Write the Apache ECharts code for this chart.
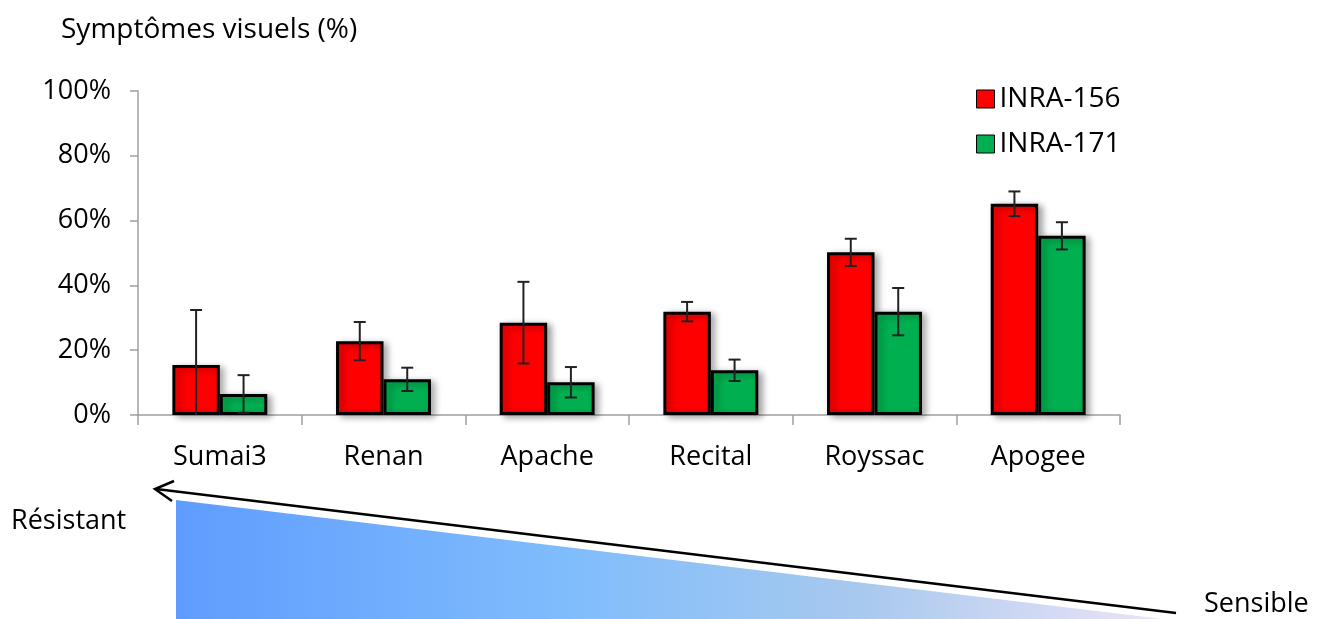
<!DOCTYPE html>
<html>
<head>
<meta charset="utf-8">
<script src="https://cdn.jsdelivr.net/npm/echarts@6/dist/echarts.min.js"></script>
<style>html,body{margin:0;padding:0;background:#fff}#c{width:1330px;height:619px}</style>
</head>
<body>
<div id="c"></div>
<script>
var categories = ['Sumai3', 'Renan', 'Apache', 'Recital', 'Royssac', 'Apogee'];
var inra156 = [15.4, 22.8, 28.5, 31.9, 50.2, 65.2];
var inra156Err = [17.0, 5.9, 12.6, 3.0, 4.2, 3.8];
var inra171 = [6.5, 11.0, 10.1, 13.8, 31.9, 55.3];
var inra171Err = [5.8, 3.6, 4.7, 3.3, 7.3, 4.2];
var yTicks = [0, 20, 40, 60, 80, 100];

var FONT = 'Open Sans';
var chart = echarts.init(document.getElementById('c'));

function errData(vals, errs) {
  return vals.map(function (v, i) { return [i, v, errs[i]]; });
}
function errRender(sign) {
  return function (params, api) {
    var i = api.value(0), v = api.value(1), e = api.value(2);
    var band = api.size([1, 0])[0];
    var top = api.coord([i, v + e]);
    var bot = api.coord([i, Math.max(0, v - e)]);
    var x = top[0] + sign * 0.145 * band;
    var cap = 6;
    var st = { stroke: '#222222', lineWidth: 2 };
    var children = [
      { type: 'line', shape: { x1: x, y1: top[1], x2: x, y2: bot[1] }, style: st },
      { type: 'line', shape: { x1: x - cap, y1: top[1], x2: x + cap, y2: top[1] }, style: st }
    ];
    if (v - e > 0) {
      children.push({ type: 'line', shape: { x1: x - cap, y1: bot[1], x2: x + cap, y2: bot[1] }, style: st });
    }
    return { type: 'group', children: children };
  };
}

var barStyle = function (color) {
  return {
    color: color,
    borderColor: '#000',
    borderWidth: 3,
    shadowBlur: 7,
    shadowOffsetX: 4,
    shadowOffsetY: 2,
    shadowColor: 'rgba(0,0,0,0.35)'
  };
};

chart.setOption({
  animation: false,
  textStyle: { fontFamily: FONT },
  grid: { left: 138, right: 210, top: 91, bottom: 204 },
  legend: {
    data: ['INRA-156', 'INRA-171'],
    orient: 'vertical',
    left: 971,
    top: 80,
    itemWidth: 18,
    itemHeight: 18,
    itemGap: 17,
    icon: 'rect',
    itemStyle: { borderColor: '#000', borderWidth: 1, shadowBlur: 0, shadowOffsetX: 0, shadowOffsetY: 0 },
    textStyle: { fontFamily: FONT, fontSize: 28, color: '#000', padding: [0, 0, 0, 0] }
  },
  xAxis: {
    type: 'category',
    data: categories,
    axisLine: { lineStyle: { color: '#a0a0a0', width: 1.5 } },
    axisTick: { show: true, length: 10, interval: 0, alignWithLabel: false, lineStyle: { color: '#a0a0a0', width: 1.5 } },
    axisLabel: { fontFamily: FONT, fontSize: 27, color: '#000', margin: 29 }
  },
  yAxis: {
    type: 'value',
    min: 0, max: 100, interval: 20,
    splitLine: { show: false },
    axisLine: { show: true, lineStyle: { color: '#a0a0a0', width: 1.5 } },
    axisTick: { show: true, length: 8, inside: false, lineStyle: { color: '#a0a0a0', width: 1.5 } },
    axisLabel: {
      fontFamily: FONT, fontSize: 27, color: '#000', margin: 27,
      formatter: function (v) { return yTicks.indexOf(v) >= 0 ? v + '%' : ''; }
    }
  },
  series: [
    { name: 'INRA-156', type: 'bar', data: inra156, barGap: '0%', barCategoryGap: '42%', itemStyle: barStyle('#ff0000') },
    { name: 'INRA-171', type: 'bar', data: inra171, barGap: '0%', barCategoryGap: '42%', itemStyle: barStyle('#00b050') },
    { name: 'err156', type: 'custom', data: errData(inra156, inra156Err), renderItem: errRender(-1), encode: { x: 0, y: 1 }, z: 5 },
    { name: 'err171', type: 'custom', data: errData(inra171, inra171Err), renderItem: errRender(1), encode: { x: 0, y: 1 }, z: 5 }
  ],
  graphic: [
    { type: 'text', left: 61, top: 16, style: { text: 'Symptômes visuels (%)', font: '28px "Open Sans"', fill: '#000' } },
    {
      type: 'polygon',
      shape: { points: [[176, 500], [1163, 619], [176, 619]] },
      style: {
        fill: new echarts.graphic.LinearGradient(0, 0, 1, 0, [
          { offset: 0, color: '#5f9cff' },
          { offset: 0.4, color: '#80bdfc' },
          { offset: 0.7, color: '#a9c9ee' },
          { offset: 1, color: '#ece4f7' }
        ])
      },
      z: -1
    },
    { type: 'line', shape: { x1: 1176, y1: 613, x2: 156, y2: 489 }, style: { stroke: '#000', lineWidth: 2.5 } },
    { type: 'polyline', shape: { points: [[174, 481], [155, 489], [172, 501]] }, style: { stroke: '#000', lineWidth: 2.5, fill: null } },
    { type: 'text', left: 11, top: 508, style: { text: 'Résistant', font: '27px "Open Sans"', fill: '#000' } },
    { type: 'text', left: 1204, top: 591, style: { text: 'Sensible', font: '27px "Open Sans"', fill: '#000' } }
  ]
});
</script>
</body>
</html>
